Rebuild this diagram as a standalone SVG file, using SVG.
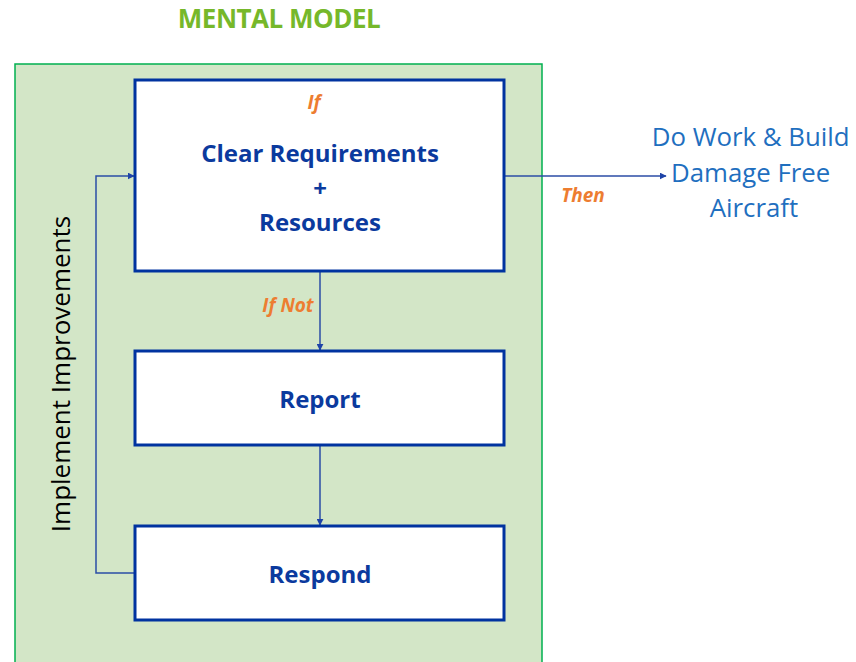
<svg xmlns="http://www.w3.org/2000/svg" width="856" height="662" viewBox="0 0 856 662">
<style>
.box{fill:#fff;stroke:#0033A0;stroke-width:3}
.lbl{font-family:"Open Sans","Liberation Sans",sans-serif;font-weight:bold;fill:#0B3A9E;font-size:24px;text-anchor:middle}
.cond{font-family:"Open Sans","Liberation Sans",sans-serif;font-weight:bold;font-style:italic;fill:#ED7D31;font-size:19px;text-anchor:middle}
.conn{fill:none;stroke:#2B4DA6;stroke-width:1.5}
</style>
<defs>
<marker id="arr" viewBox="0 0 10 10" refX="9" refY="5" markerWidth="7" markerHeight="7" orient="auto" markerUnits="userSpaceOnUse">
<path d="M0,0 L10,5 L0,10 z" fill="#1F44A8"/>
</marker>
</defs>
<rect width="856" height="662" fill="#fff"/>
<text x="279" y="28" font-family="Open Sans,Liberation Sans,sans-serif" font-weight="bold" font-size="26" fill="#76B82A" text-anchor="middle" letter-spacing="-0.5">MENTAL MODEL</text>
<g id="frame">
<rect x="15" y="64" width="527" height="610" fill="#D3E6C7" stroke="#00B050" stroke-width="1.5"/>
<text transform="translate(70,374) rotate(-90)" font-family="Open Sans,Liberation Sans,sans-serif" font-size="26" fill="#000" text-anchor="middle">Implement Improvements</text>
</g>
<g id="connectors">
<line class="conn" x1="320" y1="272" x2="320" y2="350" marker-end="url(#arr)"/>
<line class="conn" x1="320" y1="446" x2="320" y2="525" marker-end="url(#arr)"/>
<polyline class="conn" points="137,573 96,573 96,176 134,176" marker-end="url(#arr)"/>
<line class="conn" x1="505" y1="176" x2="666" y2="176" marker-end="url(#arr)"/>
<text class="cond" x="583" y="202">Then</text>
<text class="cond" x="288" y="312">If Not</text>
</g>
<g id="clear">
<rect class="box" x="135" y="80" width="369" height="191"/>
<text class="cond" x="314" y="109">If</text>
<text class="lbl" x="320" y="162">Clear Requirements</text>
<text class="lbl" x="320" y="197">+</text>
<text class="lbl" x="320" y="231">Resources</text>
</g>
<g id="report">
<rect class="box" x="135" y="351" width="369" height="94"/>
<text class="lbl" x="320" y="408">Report</text>
</g>
<g id="respond">
<rect class="box" x="135" y="526" width="369" height="94"/>
<text class="lbl" x="320" y="583">Respond</text>
</g>
<g id="outcome">
<text font-family="Open Sans,Liberation Sans,sans-serif" font-size="25.8" fill="#1F6FBF" text-anchor="middle">
<tspan x="754" y="146">Do Work &amp; Build</tspan>
<tspan x="754" y="182">Damage Free</tspan>
<tspan x="754" y="217">Aircraft</tspan>
</text>
</g>
</svg>
